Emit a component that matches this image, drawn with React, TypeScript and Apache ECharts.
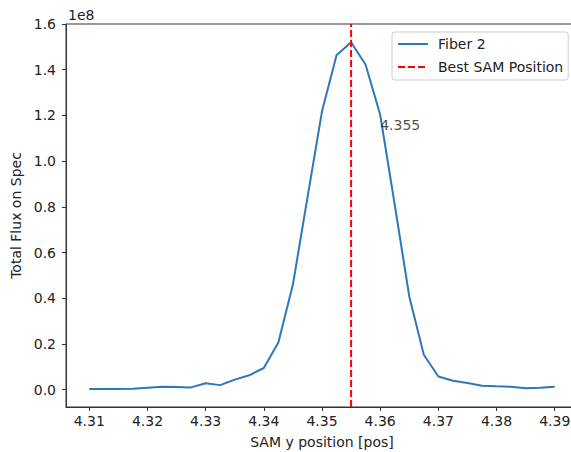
import React, { useEffect, useRef } from "react";
import * as echarts from "echarts";

// SAM y positions scanned [pos]
const positions = [
  4.31, 4.3125, 4.315, 4.3175, 4.32, 4.3225, 4.325, 4.3275, 4.33, 4.3325, 4.335,
  4.3375, 4.34, 4.3425, 4.345, 4.3475, 4.35, 4.3525, 4.355, 4.3575, 4.36, 4.3625,
  4.365, 4.3675, 4.37, 4.3725, 4.375, 4.3775, 4.38, 4.3825, 4.385, 4.3875, 4.39,
];

// Total flux on spectrograph for fiber 2, in units of 1e8
const fiber2Flux = [
  0.003, 0.003, 0.003, 0.004, 0.009, 0.013, 0.012, 0.01, 0.028, 0.02, 0.044,
  0.063, 0.095, 0.207, 0.46, 0.84, 1.218, 1.463, 1.52, 1.422, 1.203, 0.81,
  0.408, 0.153, 0.058, 0.039, 0.029, 0.0175, 0.015, 0.013, 0.006, 0.009, 0.013,
];

const bestPosition = 4.355;
// where the best-position annotation is written (data coordinates)
const annotationAt = [4.36, 1.16];

const xTicks = [4.31, 4.32, 4.33, 4.34, 4.35, 4.36, 4.37, 4.38, 4.39];
const yTicks = [0, 0.2, 0.4, 0.6, 0.8, 1.0, 1.2, 1.4, 1.6];
const xRange = [4.306, 4.394];
const yRange = [-0.0757, 1.6];

const FONT = "DejaVu Sans";
const FS = 14;
const TEXT = "#222";
const SPINE = "#333";
const DASH = [7, 3];

export default function App() {
  const ref = useRef<HTMLDivElement>(null);

  useEffect(() => {
    if (!ref.current) return;
    const chart = echarts.init(ref.current, undefined, { renderer: "svg" });
    const fluxData = positions.map((p, i) => [p, fiber2Flux[i]]);
    // vertical marker spanning the full y range at the best position
    const bestLine = yRange.map((y) => [bestPosition, y]);

    chart.setOption({
      animation: false,
      backgroundColor: "#fff",
      textStyle: { fontFamily: FONT },
      // the axes box runs a little past the visible right edge
      grid: {
        left: 66,
        top: 24,
        width: 512,
        height: 383,
        outerBoundsMode: "none",
        show: true,
        borderColor: SPINE,
        borderWidth: 1,
        backgroundColor: "transparent",
      },
      legend: {
        data: ["Fiber 2", "Best SAM Position"],
        orient: "vertical",
        left: 392,
        top: 32,
        padding: [4, 5, 5, 5],
        itemWidth: 30,
        itemHeight: 14,
        itemGap: 7,
        backgroundColor: "#fff",
        borderColor: "#ccc",
        borderWidth: 1,
        borderRadius: 3,
        itemStyle: { opacity: 0 },
        textStyle: {
          fontFamily: FONT,
          fontSize: FS,
          color: TEXT,
          lineHeight: 16,
          padding: [0, 0, 0, 5],
        },
      },
      xAxis: {
        type: "value",
        min: xRange[0],
        max: xRange[1],
        name: "SAM y position [pos]",
        nameLocation: "middle",
        nameGap: 28,
        nameTextStyle: { fontFamily: FONT, fontSize: FS, color: TEXT },
        axisLine: { onZero: false, lineStyle: { color: SPINE, width: 1 } },
        axisTick: {
          customValues: xTicks,
          length: 4,
          lineStyle: { color: SPINE, width: 1 },
        },
        axisLabel: {
          customValues: xTicks,
          margin: 7,
          fontFamily: FONT,
          fontSize: FS,
          color: TEXT,
          formatter: (v: number) => v.toFixed(2),
        },
        splitLine: { show: false },
      },
      yAxis: {
        type: "value",
        min: yRange[0],
        max: yRange[1],
        name: "Total Flux on Spec",
        nameLocation: "middle",
        nameRotate: 90,
        nameGap: 40,
        nameTextStyle: { fontFamily: FONT, fontSize: FS, color: TEXT },
        axisLine: { show: true, lineStyle: { color: SPINE, width: 1 } },
        axisTick: {
          show: true,
          customValues: yTicks,
          length: 4,
          lineStyle: { color: SPINE, width: 1 },
        },
        axisLabel: {
          customValues: yTicks,
          margin: 10,
          fontFamily: FONT,
          fontSize: FS,
          color: TEXT,
          formatter: (v: number) => v.toFixed(1),
        },
        splitLine: { show: false },
      },
      series: [
        {
          name: "Fiber 2",
          type: "line",
          data: fluxData,
          symbol: "none",
          color: "#2f77b8",
          lineStyle: { color: "#2f77b8", width: 2 },
          z: 2,
        },
        {
          name: "Best SAM Position",
          type: "line",
          data: bestLine,
          symbol: "none",
          color: "#ff0000",
          lineStyle: { color: "#ff0000", width: 2, type: DASH },
          z: 3,
        },
        {
          name: "annotation",
          type: "scatter",
          data: [annotationAt],
          symbolSize: 0,
          silent: true,
          z: 4,
          label: {
            show: true,
            position: "right",
            distance: 0,
            formatter: () => String(bestPosition),
            fontFamily: FONT,
            fontSize: FS,
            color: TEXT,
          },
        },
      ],
      graphic: [
        {
          type: "text",
          left: 68,
          top: 8,
          style: { text: "1e8", font: `${FS}px "${FONT}"`, fill: TEXT },
        },
      ],
    });

    return () => chart.dispose();
  }, []);

  return (
    <div
      style={{
        position: "absolute",
        left: 0,
        top: 0,
        width: 571,
        height: 452,
        overflow: "hidden",
      }}
    >
      <div ref={ref} style={{ width: 590, height: 452 }} />
    </div>
  );
}
